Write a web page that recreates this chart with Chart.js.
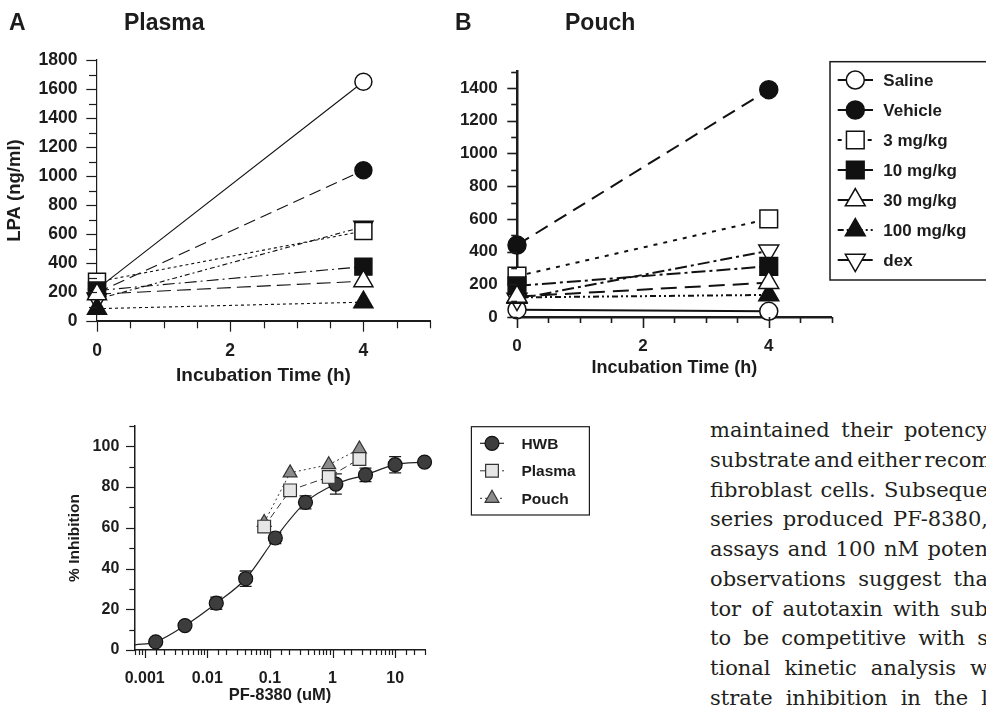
<!DOCTYPE html>
<html>
<head>
<meta charset="utf-8">
<title>LPA levels and PF-8380 inhibition</title>
<script src="https://cdn.jsdelivr.net/npm/chart.js@4.4.1/dist/chart.umd.min.js"></script>
<style>
  html, body { margin: 0; padding: 0; background: #fff; }
  body { position: relative; width: 986px; height: 709px; overflow: hidden; }
  canvas { position: absolute; }
  .panel { position: absolute; font: bold 23px 'Liberation Sans', Arial, sans-serif; color: #1c1c1c; line-height: 1; white-space: nowrap; }
  #text span { position: absolute; left: 710px; font: 21px 'DejaVu Serif', serif; color: #231f20; line-height: 1; white-space: pre; }
</style>
</head>
<body>
<canvas id="plasma" width="450" height="400" style="left:0;top:0"></canvas>
<canvas id="pouch" width="606" height="360" style="left:380px;top:40px"></canvas>
<canvas id="potency" width="700" height="309" style="left:0;top:400px"></canvas>
<div class="panel" style="left:9px;top:11px">A</div>
<div class="panel" style="left:124px;top:11px">Plasma</div>
<div class="panel" style="left:455px;top:11px">B</div>
<div class="panel" style="left:565px;top:11px">Pouch</div>
<div id="text"></div>
<script>
// ---- LPA time course (ng/ml) at 0 and 4 h of incubation ----
const hours = [0, 4];
const groups = ['Saline', 'Vehicle', '3 mg/kg', '10 mg/kg', '30 mg/kg', '100 mg/kg', 'dex'];

const plasmaSaline  = [220, 1650];
const plasmaVehicle = [195, 1040];
const plasma3       = [270, 620];
const plasma10      = [210, 375];
const plasma30      = [185, 275];
const plasma100     = [85, 130];
const plasmaDex     = [150, 650];

const pouchSaline   = [45, 35];
const pouchVehicle  = [440, 1390];
const pouch3        = [250, 600];
const pouch10       = [190, 310];
const pouch30       = [125, 210];
const pouch100      = [120, 135];
const pouchDex      = [110, 405];

// ---- PF-8380 concentration response (% inhibition) ----
const doseTickLabels = [0.001, 0.01, 0.1, 1, 10];
const hwbCurveStart = [0.0007, 2.5];
const hwbDose       = [0.0015, 0.0044, 0.0139, 0.041, 0.122, 0.37, 1.13, 3.36, 10, 29.5];
const hwbInhibition = [4, 12, 23, 35, 55, 72.5, 81.5, 86, 91, 92.3];
const hwbSem        = [0.5, 0.5, 3, 3.8, 2.7, 3.2, 5, 3.3, 4, 1];
const plasmaDose       = [0.081, 0.21, 0.87, 2.69];
const plasmaInhibition = [60.6, 78.4, 85, 93.8];
const pouchDose        = [0.081, 0.21, 0.87, 2.69];
const pouchInhibition  = [62.6, 87, 91, 98.7];

// ---- body text of the right-hand column: [part up to the page edge, rest of the line] ----
const bodyLines = [
  ['maintained their potency', ' in'],
  ['substrate and either recom', 'binant'],
  ['fibroblast cells. Subseque', 'nt'],
  ['series produced PF-8380,', ' a'],
  ['assays and 100 nM poten', 'cy'],
  ['observations suggest tha', 't'],
  ['tor of autotaxin with sub', 'strate'],
  ['to be competitive with s', 'ubstrate'],
  ['tional kinetic analysis w', 'as'],
  ['strate inhibition in the l', 'ow']
];

const INK = '#1c1c1c';
const FONT = "'Liberation Sans', Arial, Helvetica, sans-serif";
Chart.defaults.font.family = FONT;
Chart.defaults.font.weight = 'bold';
Chart.defaults.color = INK;
Chart.defaults.animation = false;
Chart.defaults.responsive = false;
Chart.defaults.plugins.legend.display = false;
Chart.defaults.plugins.tooltip.enabled = false;

const near = (a, b) => Math.abs(a - b) < 1e-6;
const isMultiple = (v, step) => near(v / step, Math.round(v / step));

// outward tick marks, long for labelled ticks and short for the rest
function tickMarks(spec) {
  return {
    id: 'tickMarks',
    afterDraw(chart) {
      const { ctx, chartArea } = chart;
      ctx.save();
      ctx.strokeStyle = INK;
      ctx.setLineDash([]);
      for (const axis of ['x', 'y']) {
        const s = chart.scales[axis], o = spec[axis];
        ctx.lineWidth = o.width;
        for (const t of s.ticks) {
          const kind = o.kind(t.value);
          if (!kind) continue;
          const len = o[kind];
          const p = Math.round(s.getPixelForValue(t.value)) + 0.5;
          ctx.beginPath();
          if (axis === 'x') { ctx.moveTo(p, chartArea.bottom); ctx.lineTo(p, chartArea.bottom + len); }
          else { ctx.moveTo(chartArea.left, p); ctx.lineTo(chartArea.left - len, p); }
          ctx.stroke();
        }
      }
      ctx.restore();
    }
  };
}

function drawMarker(ctx, ds, x, y) {
  const r = Array.isArray(ds.pointRadius) ? Math.max(...ds.pointRadius) : ds.pointRadius;
  ctx.fillStyle = ds.pointBackgroundColor;
  ctx.strokeStyle = ds.pointBorderColor;
  ctx.lineWidth = ds.pointBorderWidth;
  if (Chart.helpers && Chart.helpers.drawPoint) {
    Chart.helpers.drawPoint(ctx, { pointStyle: ds.pointStyle, rotation: ds.pointRotation || 0, radius: r, borderWidth: ds.pointBorderWidth }, x, y);
  } else {
    ctx.beginPath(); ctx.arc(x, y, r, 0, Math.PI * 2); ctx.fill(); ctx.stroke();
  }
}

// framed legend: line sample with marker, then the series name
function boxLegend(spec) {
  return {
    id: 'boxLegend',
    afterDraw(chart) {
      const ctx = chart.ctx;
      ctx.save();
      ctx.strokeStyle = INK;
      ctx.lineWidth = spec.frame;
      ctx.setLineDash([]);
      ctx.strokeRect(spec.x, spec.y, spec.w, spec.h);
      chart.data.datasets.filter(d => d.label).forEach((ds, i) => {
        const y = spec.y + spec.first + i * spec.gap;
        ctx.strokeStyle = ds.borderColor;
        ctx.lineWidth = ds.borderWidth;
        ctx.setLineDash(ds.borderDash || []);
        ctx.beginPath(); ctx.moveTo(spec.lineFrom, y); ctx.lineTo(spec.lineTo, y); ctx.stroke();
        ctx.setLineDash([]);
        drawMarker(ctx, ds, spec.mark, y);
        ctx.fillStyle = INK;
        ctx.font = `bold ${spec.size}px ${FONT}`;
        ctx.textBaseline = 'middle';
        ctx.textAlign = 'left';
        ctx.fillText(ds.label, spec.text, y + 1);
      });
      ctx.restore();
    }
  };
}

// vertical error bars with caps, drawn beneath the markers
function errorBars(datasetIndex, offset, errors, cap) {
  return {
    id: 'errorBars',
    beforeDatasetsDraw(chart) {
      const ctx = chart.ctx, ys = chart.scales.y;
      const ds = chart.data.datasets[datasetIndex];
      const meta = chart.getDatasetMeta(datasetIndex);
      ctx.save();
      ctx.strokeStyle = INK;
      ctx.lineWidth = 1.3;
      ctx.setLineDash([]);
      errors.forEach((e, i) => {
        const pt = meta.data[i + offset];
        const v = ds.data[i + offset].y;
        const top = ys.getPixelForValue(v + e), bot = ys.getPixelForValue(v - e);
        ctx.beginPath();
        ctx.moveTo(pt.x, top); ctx.lineTo(pt.x, bot);
        ctx.moveTo(pt.x - cap, top); ctx.lineTo(pt.x + cap, top);
        ctx.moveTo(pt.x - cap, bot); ctx.lineTo(pt.x + cap, bot);
        ctx.stroke();
      });
      ctx.restore();
    }
  };
}

const markers = [
  { pointStyle: 'circle',   fill: '#fff', rot: 0 },
  { pointStyle: 'circle',   fill: '#111', rot: 0 },
  { pointStyle: 'rect',     fill: '#fff', rot: 0 },
  { pointStyle: 'rect',     fill: '#111', rot: 0 },
  { pointStyle: 'triangle', fill: '#fff', rot: 0 },
  { pointStyle: 'triangle', fill: '#111', rot: 0 },
  { pointStyle: 'triangle', fill: '#fff', rot: 180 }
];
// saline is painted first so the other baseline markers sit on top of it
const stackOrder = [7, 6, 3, 2, 1, 4, 5];

function lpaDatasets(series, dashes, lineWidth, sizes) {
  return series.map((vals, i) => ({
    label: groups[i],
    data: hours.map((h, j) => ({ x: h, y: vals[j] })),
    borderColor: '#111',
    borderWidth: lineWidth,
    borderDash: dashes[i],
    pointStyle: markers[i].pointStyle,
    pointRotation: markers[i].rot,
    pointRadius: sizes[markers[i].pointStyle],
    pointBackgroundColor: markers[i].fill,
    pointBorderColor: '#111',
    pointBorderWidth: 1.5,
    clip: false,
    order: stackOrder[i],
    tension: 0
  }));
}

function hoursAxis(o) {
  return {
    type: 'linear', min: 0, max: 5,
    afterFit(s) { s.height = o.height; },
    ticks: { stepSize: 0.5, autoSkip: false, maxRotation: 0, padding: o.pad, font: { size: o.size },
             callback: v => (isMultiple(v, 2) ? String(v) : '') },
    grid: { display: false, drawTicks: false },
    border: { display: true, width: o.border, color: INK },
    title: { display: true, text: 'Incubation Time (h)', font: { size: o.titleSize }, padding: { top: 0, bottom: 0 } }
  };
}

function lpaAxis(o) {
  return {
    type: 'linear', min: 0, max: o.max,
    afterFit(s) { s.width = o.width; },
    ticks: { stepSize: 100, autoSkip: false, maxTicksLimit: 100, padding: o.pad, font: { size: o.size },
             callback: v => (isMultiple(v, 200) ? String(v) : '') },
    grid: { display: false, drawTicks: false },
    border: { display: true, width: o.border, color: INK },
    title: o.title ? { display: true, text: o.title, font: { size: o.titleSize }, padding: { top: o.titlePad, bottom: 0 } } : { display: false }
  };
}

// ---- A: plasma ----
const plasmaDash = [[], [12, 6], [3, 3], [12, 4, 2, 4], [14, 6], [3, 3], [5, 3, 2, 3]];
new Chart(document.getElementById('plasma'), {
  type: 'line',
  data: { datasets: lpaDatasets(
    [plasmaSaline, plasmaVehicle, plasma3, plasma10, plasma30, plasma100, plasmaDex],
    plasmaDash, 1.1, { circle: 8.5, rect: 12, triangle: 11 }) },
  options: {
    events: [],
    layout: { padding: { left: 0, top: 60, right: 15, bottom: 13 } },
    scales: {
      x: hoursAxis({ height: 66, pad: 20, size: 17.5, border: 2, titleSize: 19 }),
      y: lpaAxis({ max: 1800, width: 97, pad: 19.5, size: 17.5, border: 1.2, title: 'LPA (ng/ml)', titleSize: 18.5, titlePad: 4 })
    }
  },
  plugins: [tickMarks({
    x: { width: 1.2, major: 10.7, minor: 7.3, kind: v => isMultiple(v, 2) ? 'major' : (isMultiple(v, 0.5) ? 'minor' : null) },
    y: { width: 1.2, major: 10.7, minor: 8, kind: v => isMultiple(v, 200) ? 'major' : (isMultiple(v, 100) ? 'minor' : null) }
  })]
});

// ---- B: pouch ----
const pouchDash = [[], [14, 8], [4, 6], [14, 4, 3, 4], [16, 8], [6, 3, 2, 3, 2, 3], [12, 4, 3, 4]];
new Chart(document.getElementById('pouch'), {
  type: 'line',
  data: { datasets: lpaDatasets(
    [pouchSaline, pouchVehicle, pouch3, pouch10, pouch30, pouch100, pouchDex],
    pouchDash, 2, { circle: 9, rect: 12.5, triangle: 11.5 }) },
  options: {
    events: [],
    layout: { padding: { left: 0, top: 31.7, right: 154.3, bottom: 21 } },
    scales: {
      x: hoursAxis({ height: 62, pad: 19.5, size: 17, border: 2.5, titleSize: 18 }),
      y: lpaAxis({ max: 1500, width: 137, pad: 19.3, size: 17, border: 2.5 })
    }
  },
  plugins: [
    tickMarks({
      x: { width: 1.6, major: 11, minor: 6, kind: v => isMultiple(v, 2) ? 'major' : (isMultiple(v, 0.5) ? 'minor' : null) },
      y: { width: 1.6, major: 9.7, minor: 5.8, kind: v => isMultiple(v, 200) ? 'major' : (isMultiple(v, 100) ? 'minor' : null) }
    }),
    boxLegend({ x: 450, y: 21.7, w: 300, h: 218.3, first: 18.3, gap: 30, lineFrom: 457.7, lineTo: 493,
                mark: 475.3, text: 503.3, size: 17, frame: 1.5 })
  ]
});

// ---- PF-8380 concentration response ----
const isDecade = v => near(Math.log10(v), Math.round(Math.log10(v)));
new Chart(document.getElementById('potency'), {
  type: 'line',
  data: {
    datasets: [
      {
        label: 'HWB',
        data: [{ x: hwbCurveStart[0], y: hwbCurveStart[1] }, ...hwbDose.map((d, i) => ({ x: d, y: hwbInhibition[i] }))],
        borderColor: '#222', borderWidth: 1.2, cubicInterpolationMode: 'monotone',
        pointStyle: 'circle', pointRadius: [0, ...hwbDose.map(() => 7)],
        pointBackgroundColor: '#3d3d3d', pointBorderColor: '#111', pointBorderWidth: 1.2,
        clip: false, order: 3
      },
      {
        label: 'Plasma',
        data: plasmaDose.map((d, i) => ({ x: d, y: plasmaInhibition[i] })),
        borderColor: '#333', borderWidth: 1, borderDash: [7, 4],
        pointStyle: 'rect', pointRadius: 9, pointBackgroundColor: '#e6e6e6', pointBorderColor: '#333', pointBorderWidth: 1.2,
        clip: false, order: 1
      },
      {
        label: 'Pouch',
        data: pouchDose.map((d, i) => ({ x: d, y: pouchInhibition[i] })),
        borderColor: '#333', borderWidth: 1, borderDash: [2, 3],
        pointStyle: 'triangle', pointRadius: 8, pointBackgroundColor: '#8c8c8c', pointBorderColor: '#333', pointBorderWidth: 1.2,
        clip: false, order: 2
      }
    ]
  },
  options: {
    events: [],
    layout: { padding: { left: 0, top: 26, right: 275, bottom: 4 } },
    scales: {
      x: {
        type: 'logarithmic', min: 0.0007, max: 30,
        afterFit(s) { s.height = 55; },
        ticks: { autoSkip: false, maxRotation: 0, padding: 18.5, font: { size: 16 },
                 callback: v => (doseTickLabels.some(d => near(d / v, 1)) ? String(v) : '') },
        grid: { display: false, drawTicks: false },
        border: { display: true, width: 1.5, color: INK },
        title: { display: true, text: 'PF-8380 (uM)', font: { size: 16.5 }, padding: { top: 0, bottom: 0 } }
      },
      y: {
        type: 'linear', min: 0, max: 110,
        afterFit(s) { s.width = 135; },
        ticks: { stepSize: 10, autoSkip: false, padding: 15.7, font: { size: 16 },
                 callback: v => (isMultiple(v, 20) ? String(v) : '') },
        grid: { display: false, drawTicks: false },
        border: { display: true, width: 1.5, color: INK },
        title: { display: true, text: '% Inhibition', font: { size: 15.5 }, padding: { top: 65.4, bottom: 0 } }
      }
    }
  },
  plugins: [
    errorBars(0, 1, hwbSem, 6),
    tickMarks({
      x: { width: 1.2, major: 8, minor: 5, kind: v => isDecade(v) ? 'major' : 'minor' },
      y: { width: 1.2, major: 9, minor: 5.7, kind: v => isMultiple(v, 20) ? 'major' : (isMultiple(v, 10) ? 'minor' : null) }
    }),
    boxLegend({ x: 471.4, y: 26.7, w: 118, h: 88.3, first: 16.6, gap: 27.5, lineFrom: 480, lineTo: 504,
                mark: 492, text: 521.4, size: 15.5, frame: 1.2 })
  ]
});

// ---- body text: justified lines running past the right edge of the page ----
const textBox = document.getElementById('text');
const columnLeft = 710, pageEdge = 988;
bodyLines.forEach(([shown, rest], i) => {
  const s = document.createElement('span');
  s.textContent = shown;
  s.style.top = (438 - 17.8 + 29.75 * i) + 'px';
  textBox.appendChild(s);
  const natural = s.getBoundingClientRect().width;
  const gaps = (shown.match(/ /g) || []).length;
  const extra = gaps ? Math.max((pageEdge - columnLeft - natural) / gaps, -3) : 0;
  s.style.wordSpacing = extra + 'px';
  s.textContent = shown + rest;
});
</script>
</body>
</html>
